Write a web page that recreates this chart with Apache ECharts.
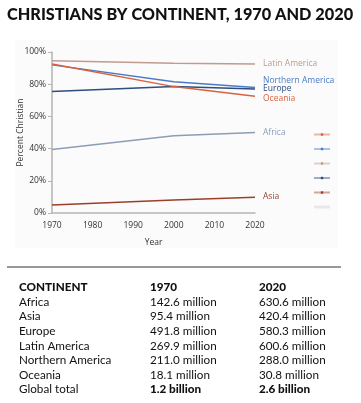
<!DOCTYPE html>
<html><head><meta charset="utf-8">
<script src="https://cdn.jsdelivr.net/npm/echarts@6/dist/echarts.min.js"></script>
<style>html,body{margin:0;padding:0;background:#fff;}#c{width:361px;height:403px;}</style>
</head><body><div id="c"></div>
<script>
const years = [1970, 2000, 2020];
const seriesNames = ['Latin America','Northern America','Europe','Oceania','Africa','Asia'];
const latinAmerica = [94.5, 93, 92.5];
const northernAmerica = [92, 81.5, 78];
const europe = [75.5, 78.5, 77];
const oceania = [92.5, 78.5, 72.5];
const africa = [39.5, 48, 50];
const asia = [5, 8, 9.8];
const yTicks = [0, 20, 40, 60, 80, 100];
const legendOrder = ['Oceania','Northern America','Latin America','Europe','Asia','Africa'];
const tableHeader = ['CONTINENT','1970','2020'];
const tableContinents = ['Africa','Asia','Europe','Latin America','Northern America','Oceania'];
const table1970 = ['142.6 million','95.4 million','491.8 million','269.9 million','211.0 million','18.1 million'];
const table2020 = ['630.6 million','420.4 million','580.3 million','600.6 million','288.0 million','30.8 million'];
const totalRow = ['Global total','1.2 billion','2.6 billion'];

const colors = {
  'Latin America':'#c29a8e',
  'Northern America':'#4b7bc6',
  'Europe':'#2e4d80',
  'Oceania':'#d8623f',
  'Africa':'#8c9db6',
  'Asia':'#9b3f2c'
};
const labelOffsets = {
  'Latin America':[0,0],
  'Northern America':[0,-7],
  'Europe':[0,0],
  'Oceania':[0,2],
  'Africa':[0,0],
  'Asia':[0,-1]
};
const values = {
  'Latin America':latinAmerica,'Northern America':northernAmerica,'Europe':europe,
  'Oceania':oceania,'Africa':africa,'Asia':asia
};
const FONT = 'Lato';
const series = seriesNames.map(n => ({
  name:n, type:'line', data: years.map((y,i)=>[y, values[n][i]]),
  showSymbol:false, symbol:'rect', symbolSize:3, silent:true,
  lineStyle:{color:colors[n], width:1.5}, itemStyle:{color:colors[n]},
  endLabel:{show:true, formatter:n, color:colors[n], fontFamily:'Open Sans', fontSize:8.5, distance:8, offset:labelOffsets[n]},
  emphasis:{disabled:true}
}));

const graphics = [
  {type:'rect', shape:{x:15,y:40,width:323,height:208}, style:{fill:'#fbfbfb'}, z:-10},
  {type:'text', left:7, top:7, style:{text:'CHRISTIANS BY CONTINENT, 1970 AND 2020', font:'900 16.3px '+FONT, fill:'#111'}},
  {type:'line', shape:{x1:7,y1:267,x2:341,y2:267}, style:{stroke:'#333', lineWidth:1.2}}
];
const colX = [19,150,259];
const rowY0 = 287.5, rowStep = 14.6;
const rows = [tableHeader].concat(tableContinents.map((c,i)=>[c, table1970[i], table2020[i]]), [totalRow]);
rows.forEach((r,ri)=>{
  r.forEach((t,ci)=>{
    const bold = ri===0 || (ri===rows.length-1 && ci>0);
    graphics.push({type:'text', x:colX[ci], y:rowY0+ri*rowStep, style:{text:t, font:(bold?'900 ':'400 ')+'11.7px '+FONT, fill:'#111', verticalAlign:'middle'}});
  });
});

const legendData = legendOrder.map(n => n==='Africa'
  ? {name:n, icon:'rect', itemStyle:{color:'#e8e8e8'}}
  : {name:n, lineStyle:{color:colors[n], opacity:0.45}});

const chart = echarts.init(document.getElementById('c'), null, {renderer:'canvas'});
chart.setOption({
  animation:false,
  backgroundColor:'#fff',
  grid:{left:52, right:106, top:52, bottom:190},
  xAxis:{type:'value', min:1970, max:2020, interval:10,
    name:'Year', nameLocation:'middle', nameGap:25, nameMoveOverlap:false, nameTextStyle:{fontFamily:'Open Sans', fontSize:8.5, color:'#333'},
    axisLine:{show:true, lineStyle:{color:'#b5b5b5', width:1.5}}, axisTick:{show:false},
    axisLabel:{fontFamily:'Open Sans', fontSize:8.5, color:'#333', margin:8, formatter:v=>String(v)},
    splitLine:{show:false}},
  yAxis:{type:'value', min:0, max:100, interval:20,
    name:'Percent Christian', nameLocation:'middle', nameGap:27, nameMoveOverlap:false, nameRotate:90, nameTextStyle:{fontFamily:'Open Sans', fontSize:8.5, color:'#333'},
    axisLine:{show:true, lineStyle:{color:'#b5b5b5', width:1.5}}, axisTick:{show:true, length:4, lineStyle:{color:'#b5b5b5'}},
    axisLabel:{fontFamily:'Open Sans', fontSize:8.5, color:'#333', margin:6, formatter:'{value}%'},
    splitLine:{show:false}},
  legend:{orient:'vertical', left:308, top:128, itemWidth:16, itemHeight:3, itemGap:11.8,
    data:legendData, formatter:()=>'', textStyle:{fontSize:1}, selectedMode:false},
  graphic:graphics,
  series:series
});
</script></body></html>
